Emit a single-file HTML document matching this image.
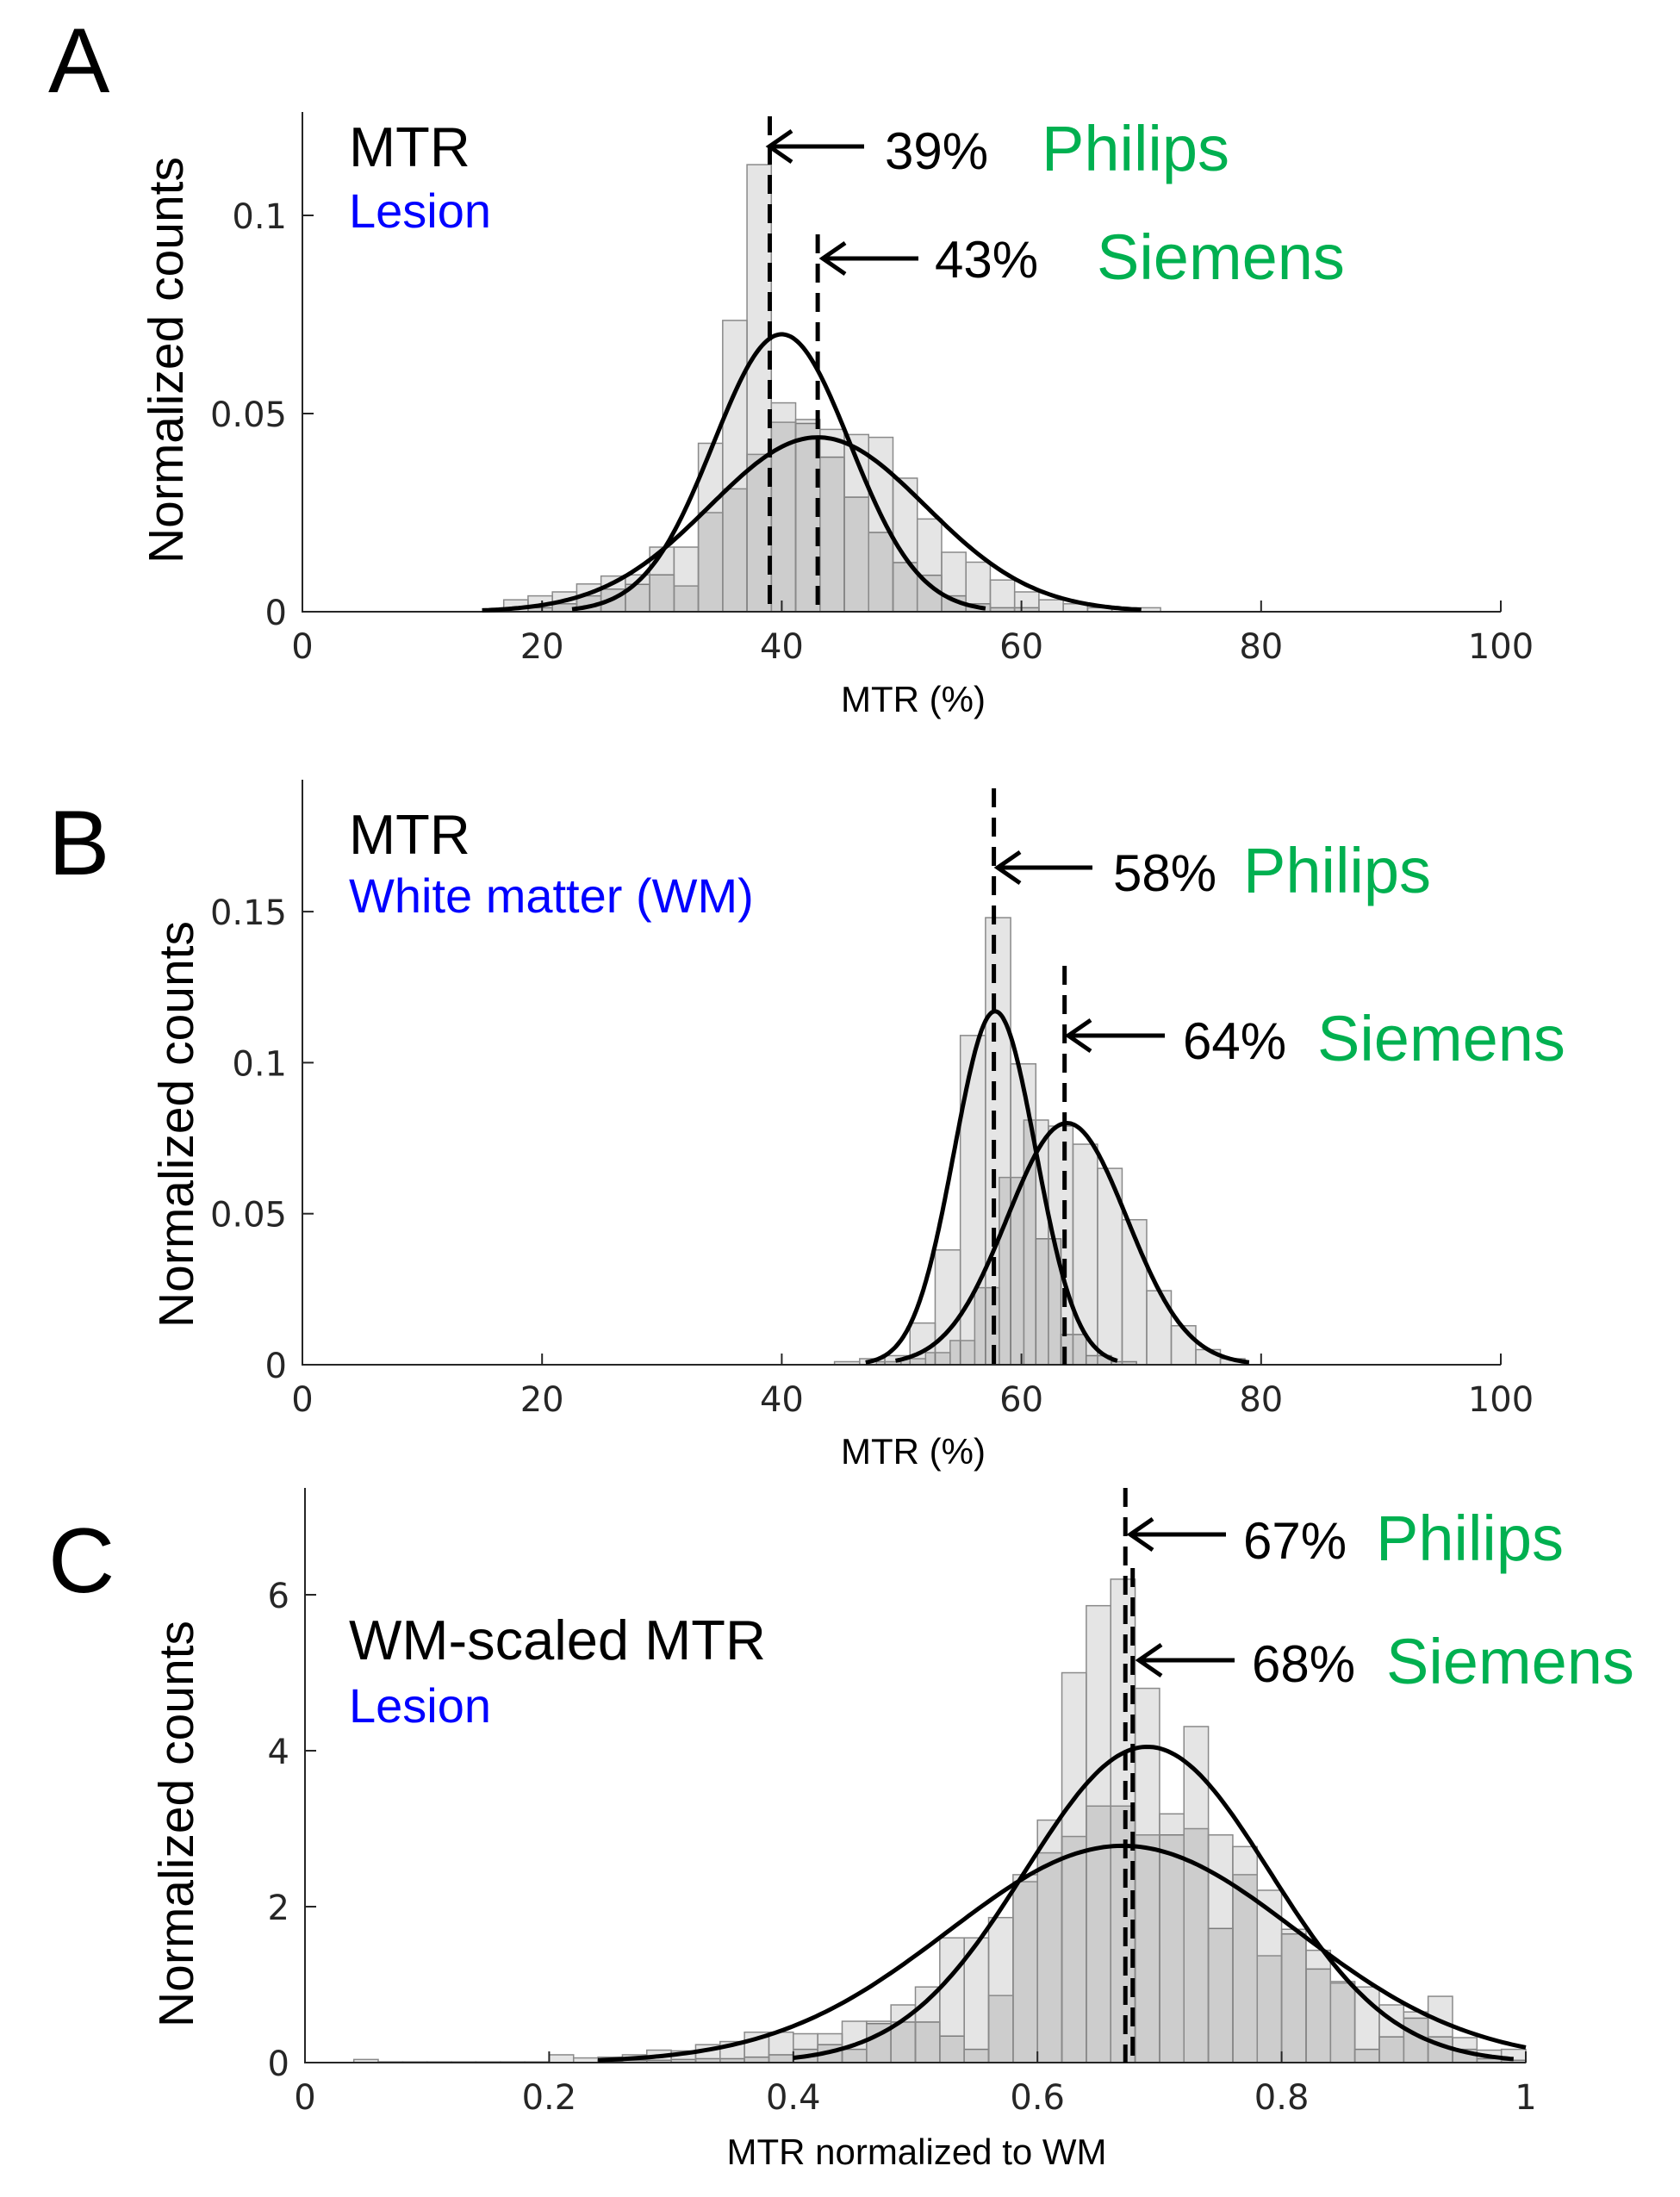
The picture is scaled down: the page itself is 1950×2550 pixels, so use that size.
<!DOCTYPE html>
<html><head><meta charset="utf-8"><style>
html,body{margin:0;padding:0;background:#fff;}
svg{display:block;}
text{font-family:"Liberation Sans",sans-serif;}
.tick{font-family:"DejaVu Sans","Liberation Sans",sans-serif;font-size:40px;fill:#262626;}
</style></head><body>
<svg id="fig" width="1950" height="2550" viewBox="0 0 1950 2550" xmlns="http://www.w3.org/2000/svg">
<rect width="1950" height="2550" fill="#fff"/>
</svg>
<script>
// ---------- Panel A data ----------
const aBinStartP = 16.8, aBinStartS = 16.8, aBinWidth = 2.03;
const aPhilips = [0,0.001,0.002,0.004,0.0057,0.0069,0.0093,0.0163,0.0425,0.0735,0.1128,0.0527,0.0475,0.039,0.0289,0.020,0.0124,0.0092,0.004,0.002,0.001,0.001,0,0,0,0,0];
const aSiemens = [0.003,0.004,0.005,0.007,0.009,0.0093,0.0163,0.0065,0.025,0.031,0.0397,0.0478,0.0485,0.046,0.0447,0.044,0.0337,0.0234,0.015,0.0125,0.008,0.005,0.003,0.002,0.001,0.001,0.001];
const aCurveMeans = [40, 43], aCurveSigmas = [5.7, 9], aCurvePeaks = [0.070, 0.044];
const aCurveFrom = [22.5, 15], aCurveTo = [57, 70];
const aMedians = [39, 43];
const aXTicks = [0,20,40,60,80,100], aYTicks = [0,0.05,0.1];
const aYTickLabels = ["0","0.05","0.1"];
// ---------- Panel B data ----------
const bBinStartP = 44.4, bBinWidthP = 2.1, bBinStartS = 47.9, bBinWidthS = 2.05;
const bPhilips = [0.001,0.002,0.003,0.0138,0.038,0.109,0.148,0.0996,0.0417,0.01,0.003,0.001];
const bSiemens = [0.001,0.002,0.004,0.008,0.0255,0.062,0.081,0.079,0.073,0.065,0.048,0.0245,0.0129,0.005,0.002];
const bCurveMeans = [57.8, 63.8], bCurveSigmas = [3.4, 5.0], bCurvePeaks = [0.117, 0.080];
const bCurveFrom = [47, 49.5], bCurveTo = [68, 79];
const bMedians = [57.7, 63.6];
const bXTicks = [0,20,40,60,80,100], bYTicks = [0,0.05,0.1,0.15];
const bYTickLabels = ["0","0.05","0.1","0.15"];
// ---------- Panel C data ----------
const cBinStart = 0, cBinWidth = 0.02;
const cPhilips = [0,0,0,0,0,0,0,0,0,0,0,0,0.02,0.03,0.03,0.04,0.05,0.05,0.07,0.10,0.17,0.23,0.17,0.50,0.52,0.52,0.34,0.17,1.86,2.41,3.11,5.0,5.86,6.20,4.80,2.92,4.31,1.72,2.77,2.21,1.65,1.2,1.04,0.17,0.33,0.57,0.33,0.17,0.05,0.03];
const cSiemens = [0,0,0.04,0.01,0.01,0.01,0.01,0.01,0.01,0.01,0.1,0.06,0.07,0.1,0.16,0.15,0.23,0.27,0.39,0.39,0.37,0.37,0.53,0.53,0.74,0.97,1.60,1.60,0.86,2.32,2.69,2.9,3.29,3.29,2.92,3.19,3.0,2.92,2.41,1.37,1.71,1.44,1.02,0.97,0.74,0.65,0.85,0.32,0.16,0.17];
const cCurveMeans = [0.69, 0.67], cCurveSigmas = [0.1, 0.143], cCurvePeaks = [4.05, 2.78];
const cCurveFrom = [0.40, 0.24], cCurveTo = [0.99, 1.0];
const cMedians = [0.672, 0.678];
const cXTicks = [0,0.2,0.4,0.6,0.8,1], cYTicks = [0,2,4,6];
const cXTickLabels = ["0","0.2","0.4","0.6","0.8","1"];
const cYTickLabels = ["0","2","4","6"];

const NS = "http://www.w3.org/2000/svg";
const svg = document.getElementById('fig');
function mk(tag, attrs, parent){
  const e = document.createElementNS(NS, tag);
  for (const k in attrs) e.setAttribute(k, attrs[k]);
  (parent||svg).appendChild(e);
  return e;
}
function txt(s, x, y, size, fill, parent, anchor, cls){
  const t = mk('text', {x:x, y:y, 'font-size':size, fill:fill, 'text-anchor':anchor||'start'}, parent);
  if (cls) t.setAttribute('class', cls);
  t.textContent = s;
  return t;
}

function panel(cfg){
  const g = mk('g', {});
  
  
  const X = v => cfg.x0 + (v - cfg.xmin) / (cfg.xmax - cfg.xmin) * (cfg.x1 - cfg.x0);
  const Y = v => cfg.y0 - v * cfg.ypx;
  const drawBars = (vals, start, w, nm) => {
    const bg = mk('g', {}, g);
    
    
    vals.forEach((v, i) => {
      if (v <= 0) return;
      const xa = X(start + i*w), xb = X(start + (i+1)*w);
      const r = mk('rect', {x:xa, y:Y(v), width:xb-xa, height:cfg.y0-Y(v), fill:'rgba(0,0,0,0.1)', stroke:'#8a8a8a', 'stroke-width':1.5}, bg);
      
      
    });
  };
  drawBars(cfg.philips, cfg.startP, cfg.widthP, 'philips-histogram');
  drawBars(cfg.siemens, cfg.startS, cfg.widthS, 'siemens-histogram');
  const ax = mk('path', {d:`M${cfg.x0},${cfg.ytop} V${cfg.y0} H${cfg.x1}`, fill:'none', stroke:'#262626', 'stroke-width':2}, g);
  
  
  cfg.xticks.forEach((v, i) => {
    const tk = mk('line', {x1:X(v), x2:X(v), y1:cfg.y0, y2:cfg.y0-13, stroke:'#262626', 'stroke-width':2}, g);
    
    
    const t = txt(cfg.xlabels ? cfg.xlabels[i] : String(v), X(v), cfg.y0 + 54, 40, '#262626', g, 'middle', 'tick');
    
    
  });
  cfg.yticks.forEach((v, i) => {
    const tk = mk('line', {x1:cfg.x0, x2:cfg.x0+13, y1:Y(v), y2:Y(v), stroke:'#262626', 'stroke-width':2}, g);
    
    
    const t = txt(cfg.ylabels[i], cfg.x0 - 18, Y(v) + 15, 40, '#262626', g, 'end', 'tick');
    
    
  });
  for (let k = 0; k < 2; k++){
    let d = '';
    const n = 200;
    for (let j = 0; j <= n; j++){
      const xv = cfg.cFrom[k] + (cfg.cTo[k]-cfg.cFrom[k]) * j / n;
      const yv = cfg.cPeaks[k] * Math.exp(-0.5 * Math.pow((xv - cfg.cMeans[k]) / cfg.cSig[k], 2));
      d += (j ? 'L' : 'M') + X(xv).toFixed(1) + ',' + Y(yv).toFixed(1);
    }
    const p = mk('path', {d:d, fill:'none', stroke:'#000', 'stroke-width':5}, g);
    
    
  }
  for (let k = 0; k < 2; k++){
    const l = mk('line', {x1:X(cfg.medians[k]), x2:X(cfg.medians[k]), y1:cfg.medTop[k], y2:cfg.y0, stroke:'#000', 'stroke-width':5, 'stroke-dasharray':'22 12'}, g);
    
    
  }
  cfg.ann.forEach((a, k) => {
    const ar = mk('path', {d:`M${a.ax1},${a.ay} H${a.ax0} M${a.ax0+26},${a.ay-18} L${a.ax0},${a.ay} L${a.ax0+26},${a.ay+18}`, fill:'none', stroke:'#000', 'stroke-width':5}, g);
    
    
    const t1 = txt(a.pct, a.tx, a.ty, 60, '#000', g);
    
    
    const t2 = txt(a.vendor, a.vx, a.ty + 2, 74, '#00b050', g);
    
    
  });
  const tl = txt(cfg.letter, 56, cfg.letterY, 107, '#000', g);
  
  
  const t1 = txt(cfg.title, 405, cfg.titleY, 65, '#000', g);
  
  
  const t2 = txt(cfg.sub, 405, cfg.subY, 56, '#0000ff', g);
  
  
  const yl = txt('Normalized counts', 0, 0, 57, '#000', g, 'middle');
  yl.setAttribute('transform', `translate(${cfg.ylX},${cfg.ylY}) rotate(-90)`);
  
  
  const xl = txt(cfg.xtitle, cfg.xtX, cfg.xtY, 42, '#000', g, 'middle');
  
  
}

panel({name:'panel-a', x0:351, x1:1742, xmin:0, xmax:100, y0:710, ytop:130, ypx:230/0.05,
  philips:aPhilips, siemens:aSiemens, startP:aBinStartP, widthP:aBinWidth, startS:aBinStartS, widthS:aBinWidth,
  xticks:aXTicks, yticks:aYTicks, ylabels:aYTickLabels,
  cMeans:aCurveMeans, cSig:aCurveSigmas, cPeaks:aCurvePeaks, cFrom:aCurveFrom, cTo:aCurveTo,
  medians:aMedians, medTop:[135, 272],
  ann:[{ax0:893, ax1:1003, ay:170, pct:'39%', tx:1027, ty:196, vendor:'Philips', vx:1209},
       {ax0:955, ax1:1066, ay:300, pct:'43%', tx:1085, ty:322, vendor:'Siemens', vx:1273}],
  letter:'A', letterY:107, title:'MTR', titleY:193, sub:'Lesion', subY:264,
  ylX:212, ylY:418, xtitle:'MTR (%)', xtX:1060, xtY:826});

panel({name:'panel-b', x0:351, x1:1742, xmin:0, xmax:100, y0:1584, ytop:905, ypx:175.3/0.05,
  philips:bPhilips, siemens:bSiemens, startP:bBinStartP, widthP:bBinWidthP, startS:bBinStartS, widthS:bBinWidthS,
  xticks:bXTicks, yticks:bYTicks, ylabels:bYTickLabels,
  cMeans:bCurveMeans, cSig:bCurveSigmas, cPeaks:bCurvePeaks, cFrom:bCurveFrom, cTo:bCurveTo,
  medians:bMedians, medTop:[915, 1121],
  ann:[{ax0:1158, ax1:1268, ay:1007, pct:'58%', tx:1292, ty:1034, vendor:'Philips', vx:1443},
       {ax0:1240, ax1:1352, ay:1202, pct:'64%', tx:1373, ty:1229, vendor:'Siemens', vx:1529}],
  letter:'B', letterY:1015, title:'MTR', titleY:991, sub:'White matter (WM)', subY:1059,
  ylX:224, ylY:1305, xtitle:'MTR (%)', xtX:1060, xtY:1699});

panel({name:'panel-c', x0:354, x1:1771, xmin:0, xmax:1, y0:2394, ytop:1727, ypx:90.5,
  philips:cPhilips, siemens:cSiemens, startP:cBinStart, widthP:cBinWidth, startS:cBinStart, widthS:cBinWidth,
  xticks:cXTicks, xlabels:cXTickLabels, yticks:cYTicks, ylabels:cYTickLabels,
  cMeans:cCurveMeans, cSig:cCurveSigmas, cPeaks:cCurvePeaks, cFrom:cCurveFrom, cTo:cCurveTo,
  medians:cMedians, medTop:[1727, 1820],
  ann:[{ax0:1312, ax1:1423, ay:1781, pct:'67%', tx:1443, ty:1809, vendor:'Philips', vx:1597},
       {ax0:1322, ax1:1433, ay:1927, pct:'68%', tx:1453, ty:1952, vendor:'Siemens', vx:1609}],
  letter:'C', letterY:1848, title:'WM-scaled MTR', titleY:1926, sub:'Lesion', subY:1999,
  ylX:224, ylY:2117, xtitle:'MTR normalized to WM', xtX:1064, xtY:2512});
</script>
</body></html>
